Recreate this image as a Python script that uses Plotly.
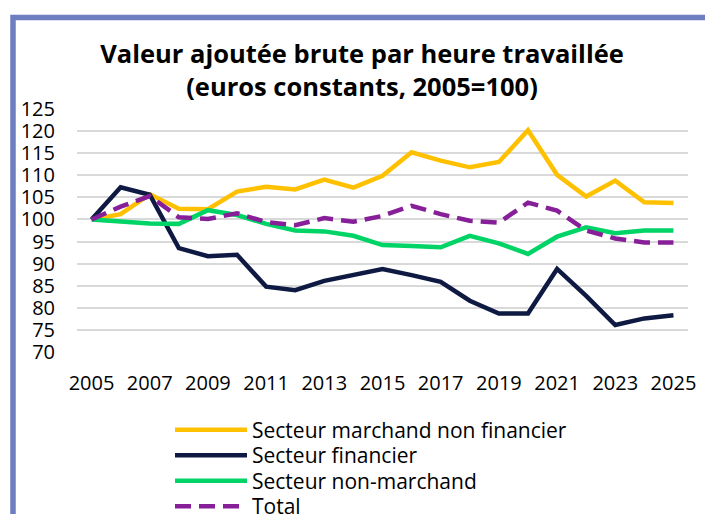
import plotly.graph_objects as go

years = list(range(2005, 2026))
marchand = [100, 101.2, 105.7, 102.4, 102.3, 106.3, 107.4, 106.8, 109.0, 107.2, 109.9,
            115.2, 113.3, 111.8, 113.0, 120.2, 110.1, 105.2, 108.8, 103.9, 103.7]
financier = [100, 107.3, 105.6, 93.5, 91.7, 92.0, 84.8, 84.0, 86.1, 87.5, 88.8,
             87.4, 85.9, 81.6, 78.7, 78.7, 88.8, 82.7, 76.1, 77.6, 78.3]
non_marchand = [100, 99.5, 99.1, 99.0, 102.1, 101.0, 99.0, 97.5, 97.3, 96.3, 94.2,
                94.0, 93.7, 96.3, 94.6, 92.2, 96.1, 98.2, 96.9, 97.5, 97.5]
total = [100, 102.9, 105.3, 100.5, 100.1, 101.4, 99.4, 98.7, 100.3, 99.5, 100.8,
         103.1, 101.2, 99.7, 99.3, 103.8, 102.0, 97.5, 95.7, 94.8, 94.8]

names = ["Secteur marchand non financier", "Secteur financier", "Secteur non-marchand", "Total"]
colors = ["#FFC000", "#0F1A42", "#00D466", "#861F98"]
dashes = ["solid", "solid", "solid", "16px,8px"]
series = [marchand, financier, non_marchand, total]

y_ticks = list(range(70, 130, 5))
x_ticks = list(range(2005, 2026, 2))

FONT = "Open Sans"
W, H = 705, 514
L, R, T, B = 77, 17, 109, 162
pw, ph = W - L - R, H - T - B

# legend rows (pixel centers from top)
legend_rows = [430, 455.5, 481, 506.5]
legend_keys = ["legend", "legend2", "legend3", "legend4"]

fig = go.Figure()
for name, vals, col, dash, lk in zip(names, series, colors, dashes, legend_keys):
    fig.add_trace(go.Scatter(
        x=years, y=vals, name=name, mode="lines", legend=lk,
        line=dict(color=col, width=4.5, dash=dash),
    ))

legend_layout = {}
for lk, yc in zip(legend_keys, legend_rows):
    legend_layout[lk] = dict(
        xref="container", yref="container",
        x=170 / W, xanchor="left", y=1 - yc / H, yanchor="middle",
        font=dict(family=FONT, size=21, color="#000000"), itemwidth=72,
        bgcolor="rgba(0,0,0,0)", borderwidth=0,
    )

fig.update_layout(
    width=W, height=H,
    margin=dict(l=L, r=R, t=T, b=B, autoexpand=False),
    paper_bgcolor="white", plot_bgcolor="white",
    font=dict(family=FONT, size=20, color="#000000"),
    title=dict(
        text="<b>Valeur ajoutée brute par heure travaillée<br>(euros constants, 2005=100)</b>",
        x=362 / W, xanchor="center", y=1 - 63 / H, yanchor="top",
        font=dict(family=FONT, size=25.5, color="#000000"),
    ),
    xaxis=dict(
        range=[2004.5, 2025.5], tickvals=x_ticks, ticktext=[str(v) for v in x_ticks],
        showgrid=False, zeroline=False, showline=False, ticks="",
        ticklabelstandoff=17, tickfont=dict(size=20),
    ),
    yaxis=dict(
        range=[70, 125], tickvals=y_ticks, showgrid=True, gridcolor="#D9D9D9", gridwidth=1.5,
        zeroline=False, showline=False, ticks="", ticklabelstandoff=21,
        tickfont=dict(size=20),
    ),
    showlegend=True,
    shapes=[dict(
        type="rect", xref="paper", yref="paper",
        x0=(13 - L) / pw, x1=(730 - L) / pw,
        y0=(H - B - 560) / ph, y1=(H - B - 17.5) / ph,
        line=dict(color="#6E7EC0", width=5.5), fillcolor="rgba(0,0,0,0)", layer="below",
    )],
    **legend_layout,
)

fig.write_html(
    "out.html",
    config={"displayModeBar": False},
    post_script="document.body.style.margin='0px';document.documentElement.style.overflow='hidden';",
)
